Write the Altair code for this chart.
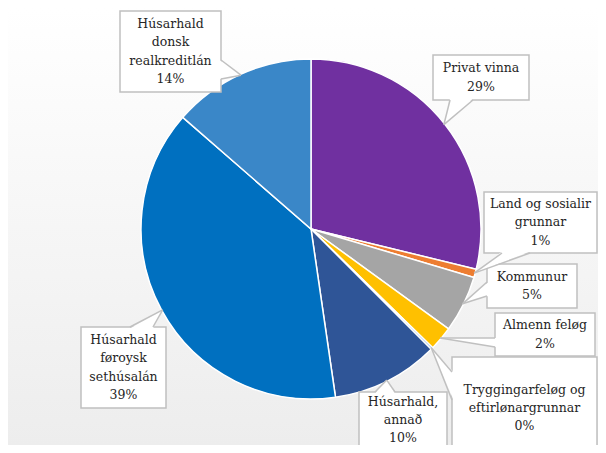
import math
import altair as alt
import pandas as pd

# ---------------- data ----------------
categories = [
    "Privat vinna",
    "Land og sosialir grunnar",
    "Kommunur",
    "Almenn feløg",
    "Tryggingarfeløg og eftirlønargrunnar",
    "Húsarhald, annað",
    "Húsarhald føroysk sethúsalán",
    "Húsarhald donsk realkreditlán",
]
label_lines = [
    ["Privat vinna"],
    ["Land og sosialir", "grunnar"],
    ["Kommunur"],
    ["Almenn feløg"],
    ["Tryggingarfeløg og", "eftirlønargrunnar"],
    ["Húsarhald,", "annað"],
    ["Húsarhald", "føroysk", "sethúsalán"],
    ["Húsarhald", "donsk", "realkreditlán"],
]
shares = [28.8, 0.8, 5.4, 2.3, 0.2, 10.2, 38.7, 13.6]
colors = ["#7030A0", "#ED7D31", "#A5A5A5", "#FFC000", "#5B9BD5", "#2F5597", "#0070C0", "#3A87C8"]

# ---------------- layout (callout placement, pixel frame of the picture) ----------------
W, H = 590, 437
OFF = 8
CX, CY, R = 311, 229, 170
LH = 18.3
box_left = [433, 484, 487, 495, 452, 359, 81, 120]
box_top = [55, 192, 264, 313, 357, 392, 327, 11]
box_right = [529, 597, 577, 595, 597, 447, 166, 221]
box_bottom = [100, 253, 308, 356, 459, 458, 408, 92]
text_shift = [0, 0, 0, 0, 0, -5, 0, 0]
pointer_side = ["bottom", "bottom", "left", "left", "left", "top", "top", "right"]
pointer_base = [(450, 473), (502, 530), (282, 296), (338, 347), (372, 400), (375, 395), (130, 153), (60, 79)]

total = sum(shares)
cum = 0.0
tips = []
for v in shares:
    a = 2 * math.pi * (cum + v / 2) / total
    tips.append((CX + (R - 1) * math.sin(a), CY - (R - 1) * math.cos(a)))
    cum += v

pie_df = pd.DataFrame({"category": categories, "share": shares, "idx": list(range(len(categories)))})

box_rows, text_rows, vw_rows, hw_rows, rule_rows = [], [], [], [], []
for i, c in enumerate(categories):
    l, t, r, b = box_left[i], box_top[i], box_right[i], box_bottom[i]
    box_rows.append({"category": c, "l": l, "t": t, "r": r, "b": b})
    pct = f"{round(shares[i] / total * 100)}%"
    lines = label_lines[i] + [pct]
    text_rows.append({"category": c, "x": (l + r) / 2,
                      "y": (t + b) / 2 - (len(lines) - 1) * LH / 2 + text_shift[i],
                      "text": "\n".join(lines)})
    tx, ty = tips[i]
    b1, b2 = pointer_base[i]
    side = pointer_side[i]
    if side in ("left", "right"):
        xb = l if side == "left" else r
        xin = xb + 1.5 if side == "left" else xb - 1.5
        vw_rows += [{"category": c, "x": xin, "y": b1, "y2": b2},
                    {"category": c, "x": tx, "y": ty, "y2": ty}]
        rule_rows += [{"x": xb, "y": b1, "x2": tx, "y2": ty}, {"x": xb, "y": b2, "x2": tx, "y2": ty}]
    else:
        yb = t if side == "top" else b
        yin = yb + 1.5 if side == "top" else yb - 1.5
        hw_rows += [{"category": c, "y": yin, "x": b1, "x2": b2},
                    {"category": c, "y": ty, "x": tx, "x2": tx}]
        rule_rows += [{"x": b1, "y": yb, "x2": tx, "y2": ty}, {"x": b2, "y": yb, "x2": tx, "y2": ty}]

xs = alt.Scale(domain=[OFF, OFF + W], range=[0, W], nice=False, zero=False)
ys = alt.Scale(domain=[OFF, OFF + H], range=[0, H], nice=False, zero=False)

FONT = "DejaVu Serif"
BORDER = "#C0C0C0"

background = alt.Chart(pd.DataFrame({"a": [0]})).mark_rect(
    fill=alt.LinearGradient(
        gradient="linear",
        stops=[alt.GradientStop(color="#FFFFFF", offset=0), alt.GradientStop(color="#EDEDED", offset=1)],
        x1=0, x2=0, y1=0, y2=1,
    )
).encode(x=alt.value(0), x2=alt.value(W), y=alt.value(0), y2=alt.value(H))

pie = alt.Chart(pie_df).mark_arc(outerRadius=R, stroke="white", strokeWidth=1.5).encode(
    theta=alt.Theta("share:Q", stack=True),
    order=alt.Order("idx:Q"),
    color=alt.Color("category:N", scale=alt.Scale(domain=categories, range=colors), legend=None),
    x=alt.value(CX - OFF),
    y=alt.value(CY - OFF),
)

boxes = alt.Chart(pd.DataFrame(box_rows)).mark_rect(fill="white", stroke=BORDER, strokeWidth=1.5).encode(
    x=alt.X("l:Q", scale=xs, axis=None), x2="r:Q",
    y=alt.Y("t:Q", scale=ys, axis=None), y2="b:Q",
)

vwedges = alt.Chart(pd.DataFrame(vw_rows)).mark_area(orient="vertical", fill="white", opacity=1).encode(
    x=alt.X("x:Q", scale=xs, axis=None),
    y=alt.Y("y:Q", scale=ys, axis=None), y2="y2:Q",
    detail="category:N",
)

hwedges = alt.Chart(pd.DataFrame(hw_rows)).mark_area(orient="horizontal", fill="white", opacity=1).encode(
    y=alt.Y("y:Q", scale=ys, axis=None),
    x=alt.X("x:Q", scale=xs, axis=None), x2="x2:Q",
    detail="category:N",
)

sides = alt.Chart(pd.DataFrame(rule_rows)).mark_rule(stroke=BORDER, strokeWidth=1.5).encode(
    x=alt.X("x:Q", scale=xs, axis=None), x2="x2:Q",
    y=alt.Y("y:Q", scale=ys, axis=None), y2="y2:Q",
)

texts = alt.Chart(pd.DataFrame(text_rows)).mark_text(
    font=FONT, fontSize=12.5, color="#262626", lineBreak="\n", lineHeight=LH,
    align="center", baseline="middle",
).encode(
    x=alt.X("x:Q", scale=xs, axis=None),
    y=alt.Y("y:Q", scale=ys, axis=None),
    text="text:N",
)

chart = alt.layer(background, pie, boxes, vwedges, hwedges, sides, texts).properties(
    width=W, height=H, autosize=alt.AutoSizeParams(type="none"), padding=0,
).configure_view(stroke=None)

chart.save("out.html", embed_options={"renderer": "svg", "actions": False})
